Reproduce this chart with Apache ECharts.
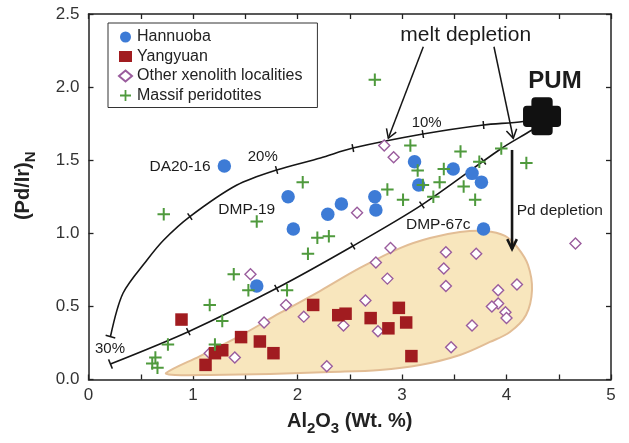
<!DOCTYPE html>
<html>
<head>
<meta charset="utf-8">
<script src="https://cdn.jsdelivr.net/npm/echarts@6/dist/echarts.min.js"></script>
<style>
  html, body { margin: 0; padding: 0; background: #fff; }
  #chart { width: 629px; height: 443px; }
</style>
</head>
<body>
<div id="chart"></div>
<script>
const FONT = '"Liberation Sans", Arial, Helvetica, sans-serif';

// ---- Sample compositions: [Al2O3 (wt.%), (Pd/Ir)N] ----
const hannuoba = [
  [1.30, 1.46], [1.91, 1.25], [1.96, 1.03], [2.29, 1.13], [2.42, 1.20],
  [2.74, 1.25], [2.75, 1.16], [3.12, 1.49], [3.16, 1.33], [3.49, 1.44],
  [3.67, 1.41], [3.76, 1.35], [3.78, 1.03], [1.61, 0.64]
];
const yangyuan = [
  [0.89, 0.41], [1.12, 0.10], [1.21, 0.18], [1.28, 0.20], [1.46, 0.29],
  [1.64, 0.26], [1.77, 0.18], [2.15, 0.51], [2.39, 0.44], [2.46, 0.45],
  [2.70, 0.42], [2.87, 0.35], [2.97, 0.49], [3.04, 0.39], [3.09, 0.16]
];
const otherXenoliths = [
  [4.66, 0.93], [2.89, 0.90], [3.42, 0.87], [3.71, 0.86], [2.75, 0.80],
  [3.40, 0.76], [2.86, 0.69], [3.42, 0.64], [4.10, 0.65], [3.92, 0.61],
  [2.65, 0.54], [1.89, 0.51], [3.92, 0.52], [3.86, 0.50], [3.99, 0.46],
  [4.00, 0.42], [2.06, 0.43], [2.44, 0.37], [2.77, 0.33], [3.67, 0.37],
  [3.47, 0.22], [2.28, 0.09], [1.68, 0.39], [1.55, 0.72], [1.40, 0.15],
  [1.16, 0.18], [2.83, 1.60], [2.92, 1.52], [2.57, 1.14]
];
const massifPeridotites = [
  [3.08, 1.60], [3.56, 1.56], [3.95, 1.58], [3.74, 1.49], [2.05, 1.35],
  [3.15, 1.43], [3.40, 1.44], [3.20, 1.33], [3.36, 1.35], [3.59, 1.32],
  [2.86, 1.30], [3.01, 1.23], [3.30, 1.25], [3.70, 1.23], [2.19, 0.97],
  [2.30, 0.98], [2.10, 0.86], [2.74, 2.05], [4.19, 1.48], [0.72, 1.13],
  [1.61, 1.08], [1.39, 0.72], [1.53, 0.61], [1.16, 0.51], [1.28, 0.40],
  [0.76, 0.24], [1.21, 0.24], [0.64, 0.15], [0.61, 0.11], [0.66, 0.08],
  [1.90, 0.61]
];
const pum = [[4.34, 1.80]];

// ---- Melting trends starting from PUM ----
const meltTrendUpper = [
  [4.34, 1.80], [4.16, 1.765], [3.78, 1.741], [3.20, 1.679], [2.53, 1.583],
  [2.22, 1.515], [1.80, 1.433], [1.42, 1.330], [0.97, 1.114], [0.72, 0.954],
  [0.56, 0.817], [0.33, 0.590], [0.21, 0.293]
];
const meltTrendLower = [
  [4.34, 1.754], [4.24, 1.705], [3.94, 1.575], [3.19, 1.194], [2.53, 0.913],
  [1.80, 0.624], [0.955, 0.327], [0.21, 0.106]
];
// melting-degree marks along each trend
const upperTrendMarks = [[3.78, 1.741], [3.20, 1.679], [2.53, 1.583], [1.80, 1.433], [0.97, 1.114]];
const lowerTrendMarks = [[3.78, 1.493], [3.19, 1.194], [2.53, 0.913], [1.80, 0.624], [0.955, 0.327]];
const trendEnds = [[0.21, 0.293], [0.21, 0.106]];

// ---- Field of Pd-depleted samples ----
const pdDepletedField = [
  [0.742, 0.044], [1.067, 0.160], [1.450, 0.298], [1.833, 0.455], [2.215, 0.605],
  [2.598, 0.763], [2.981, 0.899], [3.268, 0.968], [3.555, 1.009], [3.794, 1.016],
  [3.986, 0.982], [4.110, 0.899], [4.206, 0.783], [4.244, 0.612], [4.187, 0.441],
  [4.033, 0.325], [3.842, 0.257], [3.555, 0.168], [3.172, 0.099], [2.789, 0.065],
  [2.311, 0.051], [1.737, 0.038], [1.163, 0.031], [0.828, 0.031]
];

// ---- Axis ticks ----
const xTicks = [0, 1, 2, 3, 4, 5];
const yTicks = [0.0, 0.5, 1.0, 1.5, 2.0, 2.5];

// ---- Annotation layout (axis units) ----
const arrows = [
  { from: [3.204, 2.276], to: [2.869, 1.650], width: 1.5, head: 10, spread: 0.55 },
  { from: [3.880, 2.276], to: [4.065, 1.650], width: 1.5, head: 10, spread: 0.55 },
  { from: [4.053, 1.570], to: [4.053, 0.892], width: 2.6, head: 11, spread: 0.45 }
];
const notes = [
  { text: 'melt depletion', at: [3.61, 2.356], size: 21 },
  { text: 'PUM', at: [4.464, 2.037], size: 24, weight: 'bold' },
  { text: 'Pd depletion', at: [4.098, 1.155], size: 15.5, align: 'left' },
  { text: 'DA20-16', at: [0.876, 1.456], size: 15.5 },
  { text: 'DMP-19', at: [1.514, 1.164], size: 15.5 },
  { text: 'DMP-67c', at: [3.347, 1.057], size: 15.5 },
  { text: '10%', at: [3.236, 1.752], size: 15 },
  { text: '20%', at: [1.667, 1.520], size: 15 },
  { text: '30%', at: [0.206, 0.213], size: 15 }
];

const INK = '#161616';
const PLUS_PATH = 'path://M42,0H58V42H100V58H58V100H42V58H0V42H42Z';
const PUM_PATH = 'path://M32,0H68Q78,0 78,10V22H90Q100,22 100,32V68Q100,78 90,78H78V90Q78,100 68,100H32Q22,100 22,90V78H10Q0,78 0,68V32Q0,22 10,22H22V10Q22,0 32,0Z';

// direction of the trend segment closest to a pixel point
function localDirection(curvePx, p) {
  let best = null, bestD = Infinity;
  for (let i = 0; i < curvePx.length - 1; i++) {
    const a = curvePx[i], b = curvePx[i + 1];
    const vx = b[0] - a[0], vy = b[1] - a[1];
    const l2 = vx * vx + vy * vy || 1;
    let t = ((p[0] - a[0]) * vx + (p[1] - a[1]) * vy) / l2;
    t = Math.max(0, Math.min(1, t));
    const qx = a[0] + t * vx, qy = a[1] + t * vy;
    const d = Math.hypot(p[0] - qx, p[1] - qy);
    if (d < bestD) { bestD = d; const l = Math.sqrt(l2); best = [vx / l, vy / l]; }
  }
  return best;
}

function tickSeries(marks, curve, half) {
  return {
    type: 'custom', coordinateSystem: 'cartesian2d', z: 4, silent: true,
    data: marks,
    renderItem: function (params, api) {
      const p = api.coord([api.value(0), api.value(1)]);
      const curvePx = curve.map(c => api.coord(c));
      const d = localDirection(curvePx, p);
      const nx = -d[1], ny = d[0];
      return {
        type: 'line',
        shape: { x1: p[0] - nx * half, y1: p[1] - ny * half, x2: p[0] + nx * half, y2: p[1] + ny * half },
        style: { stroke: INK, lineWidth: 1.5 }
      };
    }
  };
}

const baseAxis = {
  type: 'value',
  min: 0,
  splitLine: { show: false },
  axisLine: { show: true, onZero: false, lineStyle: { color: '#222', width: 1.5 } },
  axisTick: { show: true, inside: true, length: 5, lineStyle: { color: '#222', width: 1.3 } }
};

const chart = echarts.init(document.getElementById('chart'), null, { renderer: 'canvas' });

const option = {
  animation: false,
  backgroundColor: '#fff',
  textStyle: { fontFamily: FONT },
  grid: { left: 88.5, right: 18, top: 14, bottom: 63.5, containLabel: false },
  legend: {
    orient: 'vertical',
    left: 108, top: 23,
    padding: [6, 15, 4, 10],
    itemGap: 3.5,
    itemWidth: 13, itemHeight: 11,
    borderColor: '#333', borderWidth: 1,
    backgroundColor: '#fff',
    selectedMode: false,
    textStyle: { fontSize: 16, fontFamily: FONT, color: '#222', lineHeight: 16 },
    data: ['Hannuoba', 'Yangyuan', 'Other xenolith localities', 'Massif peridotites']
  },
  xAxis: [
    Object.assign({}, baseAxis, {
      max: 5, interval: 0.5, position: 'bottom',
      axisLabel: {
        fontSize: 17, color: '#333', margin: 7, fontFamily: FONT,
        formatter: v => (xTicks.indexOf(v) >= 0 ? String(v) : '')
      },
      name: 'Al{s|2}O{s|3} (Wt. %)',
      nameLocation: 'middle', nameGap: 27,
      nameTextStyle: {
        fontSize: 20, fontWeight: 'bold', color: '#222', fontFamily: FONT,
        rich: { s: { fontSize: 15, fontWeight: 'bold', fontFamily: FONT, color: '#222', verticalAlign: 'bottom', padding: [15, 0, 0, 0] } }
      }
    }),
    Object.assign({}, baseAxis, {
      max: 5, interval: 0.5, position: 'top',
      axisLabel: { show: false }
    })
  ],
  yAxis: [
    Object.assign({}, baseAxis, {
      max: 2.5, interval: 0.5, position: 'left',
      axisLabel: {
        fontSize: 17, color: '#333', margin: 9, fontFamily: FONT,
        formatter: v => {
          const t = yTicks.find(k => Math.abs(k - v) < 1e-9);
          return t === undefined ? '' : t.toFixed(1);
        }
      },
      name: '(Pd/Ir){s|N}',
      nameLocation: 'middle', nameGap: 50,
      nameTextStyle: {
        fontSize: 20, fontWeight: 'bold', color: '#222', fontFamily: FONT,
        padding: [0, 0, 0, 22],
        rich: { s: { fontSize: 15, fontWeight: 'bold', fontFamily: FONT, color: '#222', verticalAlign: 'bottom', padding: [15, 0, 0, 0] } }
      }
    }),
    Object.assign({}, baseAxis, {
      max: 2.5, interval: 0.5, position: 'right',
      axisLabel: { show: false }
    })
  ],
  series: [
    // Pd-depleted field
    {
      type: 'custom', coordinateSystem: 'cartesian2d', z: 1, silent: true,
      data: [pdDepletedField[0]],
      renderItem: function (params, api) {
        return {
          type: 'polygon',
          shape: { points: pdDepletedField.map(p => api.coord(p)), smooth: 0.35 },
          style: { fill: '#f8e6bd', stroke: '#e2bd95', lineWidth: 2 }
        };
      }
    },
    // melting trends
    {
      type: 'line', data: meltTrendUpper, smooth: 0.3, symbol: 'none', z: 3, silent: true,
      lineStyle: { color: INK, width: 1.6 }
    },
    {
      type: 'line', data: meltTrendLower, smooth: 0.3, symbol: 'none', z: 3, silent: true,
      lineStyle: { color: INK, width: 1.6 }
    },
    tickSeries(upperTrendMarks, meltTrendUpper, 4),
    tickSeries(lowerTrendMarks, meltTrendLower, 4),
    tickSeries(trendEnds.slice(0, 1), meltTrendUpper, 5),
    tickSeries(trendEnds.slice(1), meltTrendLower, 5),
    // samples
    {
      name: 'Other xenolith localities', type: 'scatter', data: otherXenoliths, z: 5,
      symbol: 'diamond', symbolSize: 11,
      itemStyle: { color: '#ffffff', borderColor: '#9a5c9d', borderWidth: 1.4, opacity: 1 }
    },
    {
      name: 'Yangyuan', type: 'scatter', data: yangyuan, z: 6,
      symbol: 'rect', symbolSize: 12.5,
      itemStyle: { color: '#a11c20', opacity: 1 }
    },
    {
      name: 'Hannuoba', type: 'scatter', data: hannuoba, z: 7,
      symbol: 'circle', symbolSize: 13.5,
      itemStyle: { color: '#3d7bd6', opacity: 1 }
    },
    {
      name: 'Massif peridotites', type: 'scatter', data: massifPeridotites, z: 8,
      symbol: PLUS_PATH, symbolSize: 12.5,
      itemStyle: { color: '#4f9a3d', opacity: 1 }
    },
    {
      type: 'scatter', data: pum, z: 9, silent: true,
      symbol: PUM_PATH, symbolSize: 38,
      itemStyle: { color: '#111', opacity: 1 }
    },
    // arrows
    {
      type: 'custom', coordinateSystem: 'cartesian2d', z: 10, silent: true,
      data: arrows.map(a => a.to),
      renderItem: function (params, api) {
        const a = arrows[params.dataIndex];
        const p1 = api.coord(a.from), p2 = api.coord(a.to);
        const dx = p2[0] - p1[0], dy = p2[1] - p1[1];
        const len = Math.hypot(dx, dy);
        const bx = -dx / len, by = -dy / len;
        const c = Math.cos(a.spread), s = Math.sin(a.spread);
        const h1 = [p2[0] + a.head * (bx * c - by * s), p2[1] + a.head * (bx * s + by * c)];
        const h2 = [p2[0] + a.head * (bx * c + by * s), p2[1] + a.head * (-bx * s + by * c)];
        return {
          type: 'group',
          children: [
            { type: 'line', shape: { x1: p1[0], y1: p1[1], x2: p2[0], y2: p2[1] }, style: { stroke: INK, lineWidth: a.width } },
            { type: 'polyline', shape: { points: [h1, p2, h2] }, style: { stroke: INK, lineWidth: a.width, fill: null, lineJoin: 'miter' } }
          ]
        };
      }
    },
    // text notes
    {
      type: 'custom', coordinateSystem: 'cartesian2d', z: 11, silent: true,
      data: notes.map(n => n.at),
      renderItem: function (params, api) {
        const n = notes[params.dataIndex];
        const p = api.coord(n.at);
        return {
          type: 'text', x: p[0], y: p[1],
          style: {
            text: n.text, fill: '#1c1c1c',
            fontSize: n.size, fontWeight: n.weight || 'normal', fontFamily: FONT,
            align: n.align || 'center', verticalAlign: 'middle'
          }
        };
      }
    }
  ]
};

chart.setOption(option);
</script>
</body>
</html>
